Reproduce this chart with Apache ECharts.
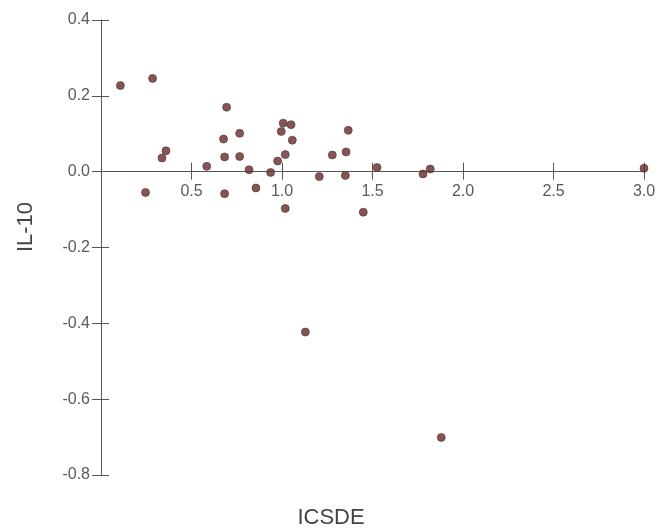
<!DOCTYPE html>
<html>
<head>
<meta charset="utf-8">
<script src="https://cdn.jsdelivr.net/npm/echarts@6/dist/echarts.min.js"></script>
<style>
  html, body { margin: 0; padding: 0; background: #fff; }
  #chart { width: 659px; height: 531px; }
</style>
</head>
<body>
<div id="chart"></div>
<script>
// ICSDE (x) vs IL-10 (y) per subject
const icsde = [0.107, 0.285, 0.337, 0.359, 0.246, 0.584, 0.694, 0.677, 0.683, 0.683,
               0.766, 0.766, 0.818, 0.856, 0.937, 0.976, 0.996, 1.007, 1.018, 1.050,
               1.057, 1.206, 1.278, 1.354, 1.350, 1.366, 1.525, 1.779, 1.819, 3.0,
               1.018, 1.449, 1.129, 1.880];
const il10  = [0.227, 0.246, 0.036, 0.055, -0.055, 0.014, 0.170, 0.086, 0.039, -0.058,
               0.101, 0.040, 0.005, -0.043, -0.002, 0.028, 0.106, 0.128, 0.045, 0.124,
               0.083, -0.013, 0.044, 0.052, -0.010, 0.109, 0.011, -0.006, 0.007, 0.009,
               -0.097, -0.107, -0.423, -0.701];

const xTicks = { min: 0, max: 3.0, interval: 0.5 };
const yTicks = { min: -0.8, max: 0.4, interval: 0.2 };

const axisColor = '#555';
const labelColor = '#5a5a5a';
const fontFamily = '"Liberation Sans", Arial, sans-serif';

// plot area
const gridTop = 20, gridBottom = 56, chartH = 531;
const plotH = chartH - gridTop - gridBottom;
// shift of the x axis from the bottom edge up to the y = 0 line
const zeroOffset = -plotH * (0 - yTicks.min) / (yTicks.max - yTicks.min);

const points = icsde.map((x, i) => [x, il10[i]]);

const chart = echarts.init(document.getElementById('chart'));
chart.setOption({
  animation: false,
  backgroundColor: '#fff',
  grid: { left: 101, right: 15, top: gridTop, bottom: gridBottom, containLabel: false },
  xAxis: [
    {
      type: 'value', min: xTicks.min, max: xTicks.max, interval: xTicks.interval,
      position: 'bottom', offset: zeroOffset,
      axisLine: { show: true, onZero: false, lineStyle: { color: axisColor, width: 1 } },
      axisTick: { show: true, length: 8, lineStyle: { color: axisColor } },
      axisLabel: {
        margin: 12, color: labelColor, fontSize: 16, fontFamily,
        showMinLabel: false,
        formatter: v => v.toFixed(1)
      },
      splitLine: { show: false }
    },
    {
      // upward half of the crossing x ticks
      type: 'value', min: xTicks.min, max: xTicks.max, interval: xTicks.interval,
      position: 'bottom', offset: zeroOffset,
      axisLine: { show: false, onZero: false },
      axisTick: { show: true, inside: true, length: 9, lineStyle: { color: axisColor } },
      axisLabel: { show: false },
      splitLine: { show: false }
    }
  ],
  yAxis: [
    {
      type: 'value', min: yTicks.min, max: yTicks.max, interval: yTicks.interval,
      axisLine: { show: true, onZero: false, lineStyle: { color: axisColor, width: 1 } },
      axisTick: { show: true, length: 9, lineStyle: { color: axisColor } },
      axisLabel: {
        margin: 11, color: labelColor, fontSize: 16, fontFamily,
        formatter: v => v.toFixed(1)
      },
      splitLine: { show: false }
    },
    {
      // rightward half of the crossing y ticks
      type: 'value', min: yTicks.min, max: yTicks.max, interval: yTicks.interval,
      position: 'left',
      axisLine: { show: false, onZero: false },
      axisTick: { show: true, inside: true, length: 8, lineStyle: { color: axisColor } },
      axisLabel: { show: false },
      splitLine: { show: false }
    }
  ],
  graphic: [
    {
      type: 'text', x: 331, y: 518,
      style: {
        text: 'ICSDE', fill: '#444', font: '22px ' + fontFamily,
        textAlign: 'center', textVerticalAlign: 'middle'
      }
    },
    {
      type: 'text', x: 26, y: 227, rotation: Math.PI / 2,
      style: {
        text: 'IL-10', fill: '#444', font: '22px ' + fontFamily,
        textAlign: 'center', textVerticalAlign: 'middle'
      }
    }
  ],
  series: [
    {
      type: 'scatter',
      xAxisIndex: 0, yAxisIndex: 0,
      data: points,
      symbol: 'circle',
      symbolSize: 8,
      itemStyle: { color: '#6a2828', borderColor: '#4a3a3a', borderWidth: 0.8 },
      z: 5
    }
  ]
});
</script>
</body>
</html>
